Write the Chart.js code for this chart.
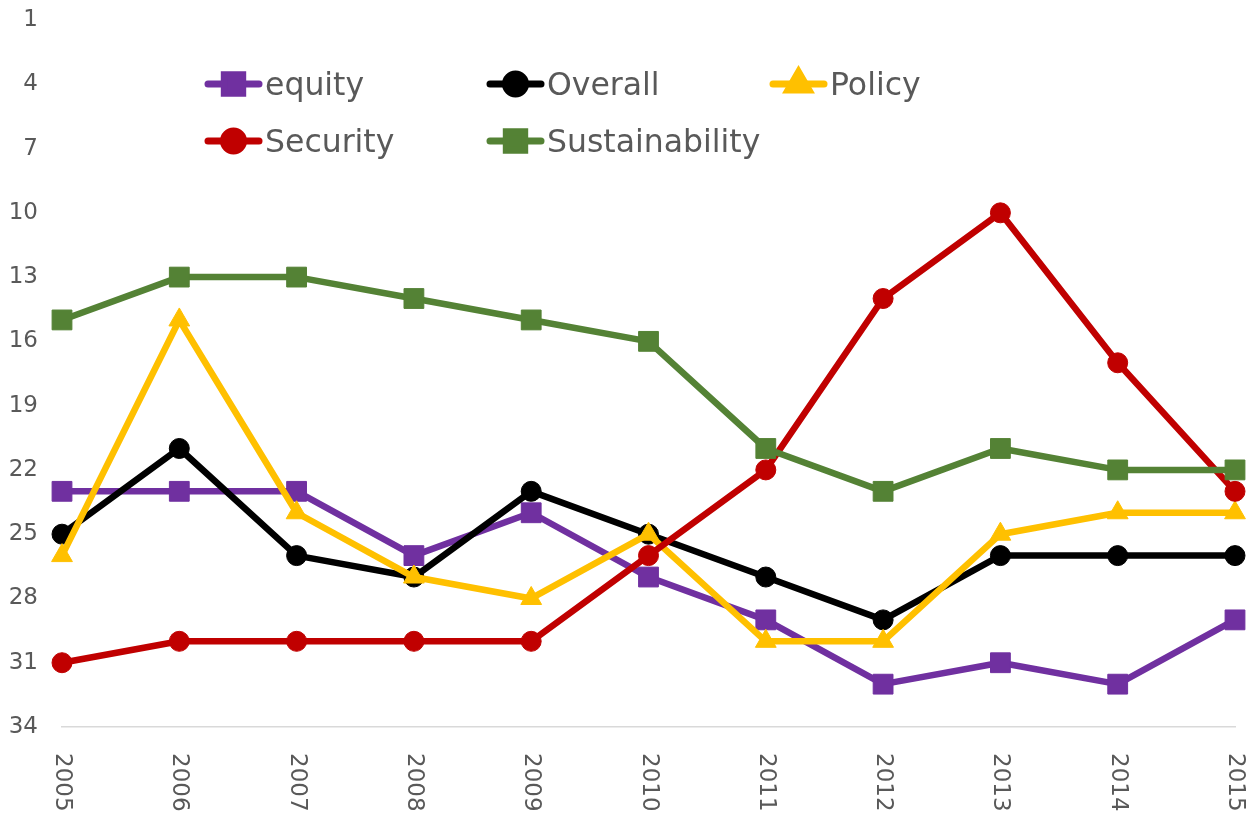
<!DOCTYPE html>
<html>
<head>
<meta charset="utf-8">
<script src="https://cdn.jsdelivr.net/npm/chart.js@4.4.0/dist/chart.umd.min.js"></script>
<style>
  html, body { margin: 0; padding: 0; background: #fff; }
  #wrap { width: 1255px; height: 815px; }
</style>
</head>
<body>
<div id="wrap"><canvas id="rankChart" width="1255" height="815"></canvas></div>
<script>
'use strict';

// data (rank, 1 = best, axis reversed)
const years = ['2005', '2006', '2007', '2008', '2009', '2010', '2011', '2012', '2013', '2014', '2015'];
const yTicks = [1, 4, 7, 10, 13, 16, 19, 22, 25, 28, 31, 34];

const equity = [23, 23, 23, 26, 24, 27, 29, 32, 31, 32, 29];
const overall = [25, 21, 26, 27, 23, 25, 27, 29, 26, 26, 26];
const policy = [26, 15, 24, 27, 28, 25, 30, 30, 25, 24, 24];
const security = [31, 30, 30, 30, 30, 26, 22, 14, 10, 17, 23];
const sustainability = [15, 13, 13, 14, 15, 16, 21, 23, 21, 22, 22];

const seriesNames = ['equity', 'Overall', 'Policy', 'Security', 'Sustainability'];
const seriesData = [equity, overall, policy, security, sustainability];
const seriesColors = ['#7030A0', '#000000', '#FFC000', '#C00000', '#548235'];
const seriesStyles = ['rect', 'circle', 'triangle', 'circle', 'rect'];

const FONT = '"DejaVu Sans", Verdana, sans-serif';
const TEXT_COLOR = '#595959';

function pointSize(style) {
    if (style === 'rect') return 14;
    if (style === 'triangle') return 12;
    return 10;
}

function makeDataset(i) {
    const style = seriesStyles[i];
    return {
        label: seriesNames[i],
        data: seriesData[i],
        borderColor: seriesColors[i],
        backgroundColor: seriesColors[i],
        borderWidth: 6.5,
        borderJoinStyle: 'round',
        borderCapStyle: 'round',
        tension: 0,
        fill: false,
        pointStyle: style,
        pointRadius: pointSize(style),
        pointHoverRadius: pointSize(style),
        pointBorderWidth: 1,
        pointBackgroundColor: seriesColors[i],
        pointBorderColor: seriesColors[i],
        clip: false,
        // later series sit on top, like the original
        order: seriesNames.length - i
    };
}

// legend laid out in a fixed grid (3 per row, left aligned)
const gridLegend = {
    id: 'gridLegend',
    afterDraw(chart) {
        const ctx = chart.ctx;
        const colX = [205, 487, 770];
        const rowY = [84, 141];
        ctx.save();
        for (let i = 0; i < seriesNames.length; i++) {
            const x = colX[i % 3];
            const y = rowY[Math.floor(i / 3)];
            ctx.strokeStyle = seriesColors[i];
            ctx.fillStyle = seriesColors[i];
            ctx.lineWidth = 7;
            ctx.lineCap = 'round';
            ctx.beginPath();
            ctx.moveTo(x + 3, y);
            ctx.lineTo(x + 54, y);
            ctx.stroke();

            const style = seriesStyles[i];
            Chart.helpers.drawPoint(ctx, {
                pointStyle: style,
                radius: style === 'rect' ? 13 : pointSize(style),
                borderWidth: 1,
                rotation: 0
            }, x + 28.5, y);

            ctx.fillStyle = TEXT_COLOR;
            ctx.font = '31.5px ' + FONT;
            ctx.textAlign = 'left';
            ctx.textBaseline = 'alphabetic';
            ctx.fillText(seriesNames[i], x + 60, y + 11);
        }
        ctx.restore();
    }
};

// year labels turned 90 degrees clockwise, reading downwards
const verticalYears = {
    id: 'verticalYears',
    afterDraw(chart) {
        const ctx = chart.ctx;
        const xScale = chart.scales.x;
        ctx.save();
        ctx.fillStyle = TEXT_COLOR;
        ctx.font = '23px ' + FONT;
        ctx.textAlign = 'left';
        ctx.textBaseline = 'middle';
        for (let i = 0; i < years.length; i++) {
            const px = xScale.getPixelForTick(i);
            ctx.save();
            ctx.translate(px, 753);
            ctx.rotate(Math.PI / 2);
            ctx.fillText(years[i], 0, 0);
            ctx.restore();
        }
        ctx.restore();
    }
};

const ctx = document.getElementById('rankChart').getContext('2d');
const rankChart = new Chart(ctx, {
    type: 'line',
    data: {
        labels: years,
        datasets: seriesNames.map((n, i) => makeDataset(i))
    },
    options: {
        responsive: false,
        animation: false,
        layout: { padding: { top: 20, bottom: 88, left: 0, right: 20 } },
        plugins: {
            legend: { display: false },
            tooltip: { enabled: false }
        },
        scales: {
            x: {
                offset: false,
                grid: { display: false, drawTicks: false },
                border: { display: true, color: '#d9d9d9', width: 1.5 },
                ticks: { display: false }
            },
            y: {
                reverse: true,
                min: 1,
                max: 34,
                grid: { display: false, drawTicks: false },
                border: { display: false },
                ticks: {
                    padding: 24,
                    color: TEXT_COLOR,
                    font: { family: FONT, size: 23 }
                },
                afterBuildTicks(scale) {
                    scale.ticks = yTicks.map(v => ({ value: v }));
                },
                afterFit(scale) {
                    scale.width = 62;
                    scale.paddingTop = 0;
                    scale.paddingBottom = 0;
                }
            }
        }
    },
    plugins: [gridLegend, verticalYears]
});
</script>
</body>
</html>
